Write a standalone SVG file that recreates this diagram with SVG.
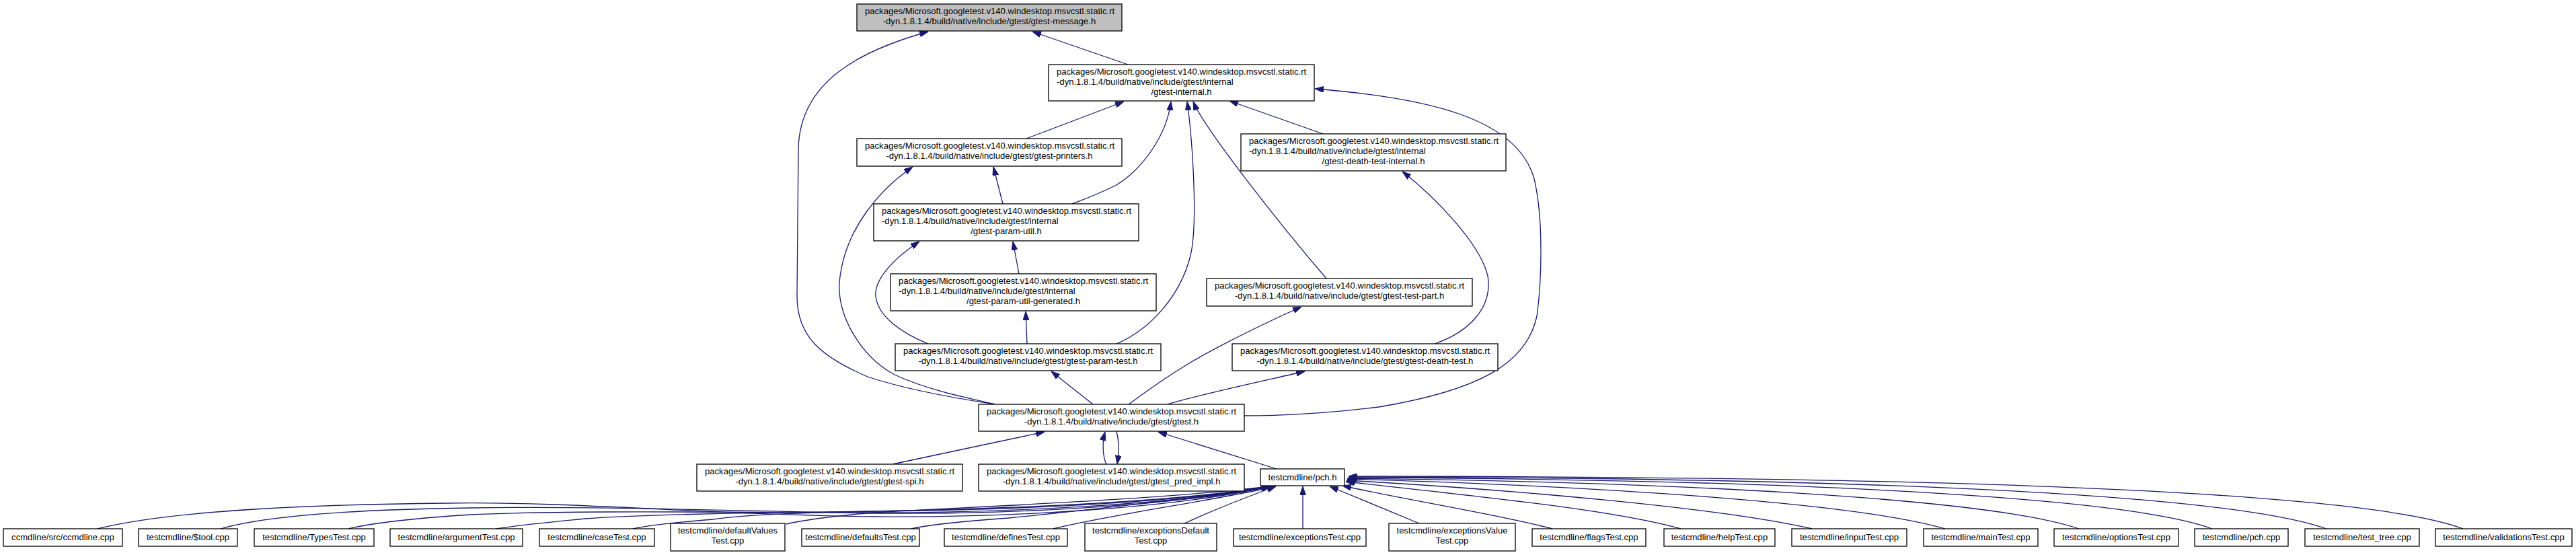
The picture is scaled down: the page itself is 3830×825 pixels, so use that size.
<svg xmlns="http://www.w3.org/2000/svg" width="3830" height="825" viewBox="0 0 3830 825">
<style>
.n rect{fill:#fff;stroke:#000;stroke-width:1.3}
.n.g rect{fill:#bfbfbf}
text{font-family:"Liberation Sans",Arial,Helvetica,sans-serif;font-size:13.1px;fill:#000}
.m{text-anchor:middle}
.e path{fill:none;stroke:#191970;stroke-width:1.3;marker-start:url(#a)}
</style>
<defs>
<marker id="a" viewBox="0 0 13 9" refX="13" refY="4.5" markerWidth="13" markerHeight="9" markerUnits="userSpaceOnUse" orient="auto-start-reverse"><path d="M0,0 L13,4.5 L0,9 z" fill="#191970" stroke="#191970" stroke-width="1"/></marker>
</defs>
<rect width="3830" height="825" fill="#fff"/>
<g id="edges" class="e">
<path d="M1535,47 L1677,96"/>
<path d="M1380,47 C1280,75 1190,120 1187,220 L1185,440 C1185,500 1220,530 1290,560 C1350,580 1420,592 1480,601"/>
<path d="M1357,248 C1310,280 1255,340 1248,420 C1245,470 1280,530 1330,557 C1380,580 1440,592 1480,601"/>
<path d="M1671,151 L1526,206"/>
<path d="M1741,151 C1735,200 1700,250 1660,275 C1630,290 1610,297 1594,303"/>
<path d="M1765,151 C1772,200 1782,330 1770,380 C1755,440 1710,490 1660,511"/>
<path d="M1774,151 C1790,190 1900,330 1972,414"/>
<path d="M1828,150 L1967,199"/>
<path d="M1955,132 C2120,145 2260,175 2282,270 C2295,330 2292,420 2285,470 C2270,540 2200,580 2050,605 C1960,616 1900,618 1850,618"/>
<path d="M1477,248 L1491,303"/>
<path d="M1506,359 L1515,407"/>
<path d="M1367,359 C1320,390 1300,420 1302,440 C1305,470 1340,495 1380,511"/>
<path d="M1525,463 L1527,511"/>
<path d="M1563,552 L1625,601"/>
<path d="M1935,456 C1870,485 1800,520 1760,545 C1730,563 1700,585 1678,601"/>
<path d="M1940,552 C1870,568 1790,585 1735,601"/>
<path d="M2085,255 C2130,290 2200,360 2212,410 C2220,460 2180,495 2133,511"/>
<path d="M1553,642 L1327,690"/>
<path d="M1643,642 C1638,660 1640,680 1645,690"/>
<path d="M1661,690 C1664,670 1664,655 1660,641"/>
<path d="M1722,642 L1898,697"/>
<path d="M1888,723 C1750,755 1500,770 1300,768 C1050,765 850,745 663,748 C450,750 250,760 145,786"/>
<path d="M1888,723 C1750,752 1500,765 1300,763 C1100,760 900,752 700,755 C550,757 400,765 328,786"/>
<path d="M1888,723 C1750,750 1500,762 1300,762 C1100,762 850,758 700,765 C620,770 560,776 518,786"/>
<path d="M1888,723 C1750,748 1500,758 1300,760 C1100,762 950,765 871,771 C820,776 775,780 738,786"/>
<path d="M1888,723 C1750,746 1500,756 1300,760 C1180,762 1100,766 1060,772 C1010,776 970,780 941,786"/>
<path d="M1888,723 C1700,745 1400,755 1300,762 C1240,767 1200,772 1169,779"/>
<path d="M1888,723 C1750,745 1550,765 1500,770 C1430,775 1380,780 1355,786"/>
<path d="M1897,723 C1800,745 1650,765 1566,786"/>
<path d="M1897,723 C1850,740 1800,760 1761,778"/>
<path d="M1937,723 L1937,786"/>
<path d="M1977,723 L2110,778"/>
<path d="M1996,722 C2100,745 2230,765 2308,786"/>
<path d="M2001,716 C2200,738 2400,758 2499,786"/>
<path d="M2002,714 C2250,728 2560,755 2694,786"/>
<path d="M2003,712 C2350,722 2750,745 2892,786"/>
<path d="M2004,711 C2450,716 2950,738 3091,786"/>
<path d="M2005,710 C2600,712 3150,735 3289,786"/>
<path d="M2005,709 C2700,710 3300,730 3459,786"/>
<path d="M2005,708 C2800,708 3500,725 3662,786"/>
</g>
<g id="n_message" class="n g"><rect x="1274" y="6" width="394" height="40"/><text x="1286" y="21">packages/Microsoft.googletest.v140.windesktop.msvcstl.static.rt</text><text class="m" x="1471" y="36">-dyn.1.8.1.4/build/native/include/gtest/gtest-message.h</text></g>
<g id="n_internal" class="n"><rect x="1559" y="96" width="395" height="54"/><text x="1571" y="111">packages/Microsoft.googletest.v140.windesktop.msvcstl.static.rt</text><text x="1571" y="126">-dyn.1.8.1.4/build/native/include/gtest/internal</text><text class="m" x="1756.5" y="141">/gtest-internal.h</text></g>
<g id="n_printers" class="n"><rect x="1274" y="206" width="394" height="41"/><text x="1286" y="221">packages/Microsoft.googletest.v140.windesktop.msvcstl.static.rt</text><text class="m" x="1471" y="236">-dyn.1.8.1.4/build/native/include/gtest/gtest-printers.h</text></g>
<g id="n_deathint" class="n"><rect x="1845" y="199" width="394" height="55"/><text x="1857" y="214">packages/Microsoft.googletest.v140.windesktop.msvcstl.static.rt</text><text x="1857" y="229">-dyn.1.8.1.4/build/native/include/gtest/internal</text><text class="m" x="2042" y="244">/gtest-death-test-internal.h</text></g>
<g id="n_paramutil" class="n"><rect x="1299" y="303" width="394" height="55"/><text x="1311" y="318">packages/Microsoft.googletest.v140.windesktop.msvcstl.static.rt</text><text x="1311" y="333">-dyn.1.8.1.4/build/native/include/gtest/internal</text><text class="m" x="1496" y="348">/gtest-param-util.h</text></g>
<g id="n_paramgen" class="n"><rect x="1324" y="407" width="395" height="55"/><text x="1336" y="422">packages/Microsoft.googletest.v140.windesktop.msvcstl.static.rt</text><text x="1336" y="437">-dyn.1.8.1.4/build/native/include/gtest/internal</text><text class="m" x="1521.5" y="452">/gtest-param-util-generated.h</text></g>
<g id="n_testpart" class="n"><rect x="1794" y="414" width="395" height="41"/><text x="1806" y="429">packages/Microsoft.googletest.v140.windesktop.msvcstl.static.rt</text><text class="m" x="1991.5" y="444">-dyn.1.8.1.4/build/native/include/gtest/gtest-test-part.h</text></g>
<g id="n_paramtest" class="n"><rect x="1331" y="511" width="395" height="40"/><text x="1343" y="526">packages/Microsoft.googletest.v140.windesktop.msvcstl.static.rt</text><text class="m" x="1528.5" y="541">-dyn.1.8.1.4/build/native/include/gtest/gtest-param-test.h</text></g>
<g id="n_deathtest" class="n"><rect x="1832" y="511" width="395" height="40"/><text x="1844" y="526">packages/Microsoft.googletest.v140.windesktop.msvcstl.static.rt</text><text class="m" x="2029.5" y="541">-dyn.1.8.1.4/build/native/include/gtest/gtest-death-test.h</text></g>
<g id="n_gtest" class="n"><rect x="1455" y="601" width="395" height="40"/><text x="1467" y="616">packages/Microsoft.googletest.v140.windesktop.msvcstl.static.rt</text><text class="m" x="1652.5" y="631">-dyn.1.8.1.4/build/native/include/gtest/gtest.h</text></g>
<g id="n_spi" class="n"><rect x="1036" y="690" width="395" height="40"/><text x="1048" y="705">packages/Microsoft.googletest.v140.windesktop.msvcstl.static.rt</text><text class="m" x="1233.5" y="720">-dyn.1.8.1.4/build/native/include/gtest/gtest-spi.h</text></g>
<g id="n_pred" class="n"><rect x="1455" y="690" width="395" height="40"/><text x="1467" y="705">packages/Microsoft.googletest.v140.windesktop.msvcstl.static.rt</text><text class="m" x="1652.5" y="720">-dyn.1.8.1.4/build/native/include/gtest/gtest_pred_impl.h</text></g>
<g id="n_pchh" class="n"><rect x="1874" y="697" width="125" height="25"/><text class="m" x="1936.5" y="714">testcmdline/pch.h</text></g>
<g id="n_ccmdline" class="n"><rect x="5" y="786" width="177" height="26"/><text class="m" x="93.5" y="803">ccmdline/src/ccmdline.cpp</text></g>
<g id="n_tool" class="n"><rect x="206" y="786" width="147" height="26"/><text class="m" x="279.5" y="803">testcmdline/$tool.cpp</text></g>
<g id="n_types" class="n"><rect x="378" y="786" width="178" height="26"/><text class="m" x="467" y="803">testcmdline/TypesTest.cpp</text></g>
<g id="n_argument" class="n"><rect x="580" y="786" width="197" height="26"/><text class="m" x="678.5" y="803">testcmdline/argumentTest.cpp</text></g>
<g id="n_case" class="n"><rect x="802" y="786" width="171" height="26"/><text class="m" x="887.5" y="803">testcmdline/caseTest.cpp</text></g>
<g id="n_defaultvalues" class="n"><rect x="997" y="778" width="170" height="41"/><text class="m" x="1082" y="793">testcmdline/defaultValues</text><text class="m" x="1082" y="808">Test.cpp</text></g>
<g id="n_defaults" class="n"><rect x="1192" y="786" width="175" height="26"/><text class="m" x="1279.5" y="803">testcmdline/defaultsTest.cpp</text></g>
<g id="n_defines" class="n"><rect x="1404" y="786" width="183" height="26"/><text class="m" x="1495.5" y="803">testcmdline/definesTest.cpp</text></g>
<g id="n_excdefault" class="n"><rect x="1613" y="778" width="196" height="41"/><text class="m" x="1711" y="793">testcmdline/exceptionsDefault</text><text class="m" x="1711" y="808">Test.cpp</text></g>
<g id="n_exc" class="n"><rect x="1834" y="786" width="197" height="26"/><text class="m" x="1932.5" y="803">testcmdline/exceptionsTest.cpp</text></g>
<g id="n_excvalue" class="n"><rect x="2065" y="778" width="188" height="41"/><text class="m" x="2159" y="793">testcmdline/exceptionsValue</text><text class="m" x="2159" y="808">Test.cpp</text></g>
<g id="n_flags" class="n"><rect x="2278" y="786" width="169" height="26"/><text class="m" x="2362.5" y="803">testcmdline/flagsTest.cpp</text></g>
<g id="n_help" class="n"><rect x="2474" y="786" width="165" height="26"/><text class="m" x="2556.5" y="803">testcmdline/helpTest.cpp</text></g>
<g id="n_input" class="n"><rect x="2664" y="786" width="171" height="26"/><text class="m" x="2749.5" y="803">testcmdline/inputTest.cpp</text></g>
<g id="n_main" class="n"><rect x="2860" y="786" width="170" height="26"/><text class="m" x="2945" y="803">testcmdline/mainTest.cpp</text></g>
<g id="n_options" class="n"><rect x="3054" y="786" width="185" height="26"/><text class="m" x="3146.5" y="803">testcmdline/optionsTest.cpp</text></g>
<g id="n_pchcpp" class="n"><rect x="3263" y="786" width="139" height="26"/><text class="m" x="3332.5" y="803">testcmdline/pch.cpp</text></g>
<g id="n_testtree" class="n"><rect x="3427" y="786" width="170" height="26"/><text class="m" x="3512" y="803">testcmdline/test_tree.cpp</text></g>
<g id="n_validations" class="n"><rect x="3621" y="786" width="203" height="26"/><text class="m" x="3722.5" y="803">testcmdline/validationsTest.cpp</text></g>
</svg>
